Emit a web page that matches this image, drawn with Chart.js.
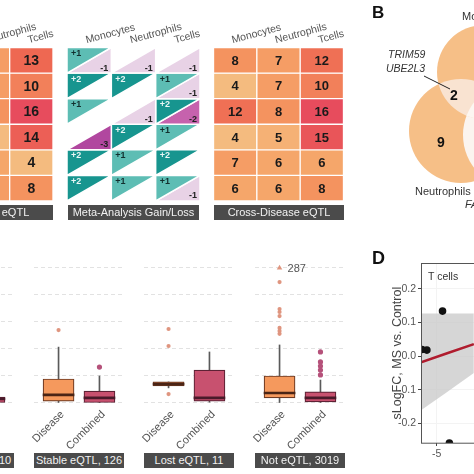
<!DOCTYPE html>
<html><head><meta charset="utf-8">
<script src="https://cdn.jsdelivr.net/npm/chart.js@4.4.1/dist/chart.umd.min.js"></script>
<style>
html,body{margin:0;padding:0;background:#fff;}
body{width:474px;height:474px;overflow:hidden;position:relative;font-family:"Liberation Sans",Arial,Helvetica,sans-serif;}
canvas{position:absolute;}
.strip{position:absolute;background:#4b4b4b;color:#f2f2f2;font-size:11px;height:15px;line-height:15px;text-align:center;white-space:nowrap;overflow:hidden;}
.lbl{position:absolute;white-space:nowrap;color:#333;}
</style></head><body>
<canvas id="hmE" width="183" height="205" style="left:-90px;top:0"></canvas>
<canvas id="meta" width="185" height="205" style="left:55px;top:0"></canvas>
<canvas id="hmC" width="184" height="205" style="left:200px;top:0"></canvas>
<canvas id="venn" width="200" height="230" style="left:360px;top:0"></canvas>
<canvas id="f0" width="150" height="213" style="left:-106px;top:240px"></canvas>
<canvas id="f1" width="150" height="213" style="left:4px;top:240px"></canvas>
<canvas id="f2" width="150" height="213" style="left:114px;top:240px"></canvas>
<canvas id="f3" width="150" height="213" style="left:225px;top:240px"></canvas>
<canvas id="pd" width="220" height="210" style="left:386px;top:255px"></canvas>
<div id="strips"></div>
<div class="lbl" style="left:372px;top:3px;font-weight:bold;font-size:17px;color:#111">B</div>
<div class="lbl" style="left:462px;top:10px;font-size:11px">Monocytes</div>
<div class="lbl" style="left:388px;top:48px;font-size:10.5px;font-style:italic">TRIM59</div>
<div class="lbl" style="left:386px;top:62px;font-size:10.5px;font-style:italic">UBE2L3</div>
<svg style="position:absolute;left:0;top:0" width="474" height="474"><line x1="424" y1="76" x2="450" y2="89" stroke="#222" stroke-width="1"/></svg>
<div class="lbl" style="left:450px;top:87px;font-weight:bold;font-size:14px;color:#111">2</div>
<div class="lbl" style="left:437px;top:134px;font-weight:bold;font-size:14px;color:#111">9</div>
<div class="lbl" style="left:415px;top:185px;font-size:11px">Neutrophils</div>
<div class="lbl" style="left:465px;top:198px;font-size:11px;font-style:italic">FAM118A</div>
<div class="lbl" style="left:372px;top:248px;font-weight:bold;font-size:18px;color:#111">D</div>
<div class="lbl" style="left:428px;top:270px;font-size:10.5px">T cells</div>
<script>
// ---------- data ----------
const cellTypes = ['Monocytes', 'Neutrophils', 'Tcells'];
// eQTL counts per row (6 rows) for each cell type
const eqtlMono = [6, 5, 9, 4, 7, 6];
const eqtlNeut = [7, 7, 8, 4, 6, 7];
const eqtlTcells = [13, 10, 16, 14, 4, 8];
// cross-disease eQTL counts
const crossMono = [8, 4, 12, 4, 7, 6];
const crossNeut = [7, 7, 8, 5, 6, 6];
const crossTcells = [12, 10, 16, 15, 6, 8];
// meta-analysis gain / loss
const gainMono = [1, 2, 1, 0, 2, 2];
const lossMono = [-1, 0, 0, -3, 0, 0];
const gainNeut = [0, 2, 0, 2, 1, 1];
const lossNeut = [-1, 0, -1, 0, 0, 0];
const gainTcells = [0, 1, 2, 1, 2, 1];
const lossTcells = [-1, -1, -2, 0, 0, -1];
// Venn (panel B)
const vennSets = ['Monocytes', 'Neutrophils', 'Tcells'];
const vennCX = [124, 101, 157];
const vennCY = [72, 131, 135];
const vennR = [47, 52, 54];
// boxplots (panel C): [low whisker, Q1, median, Q3, high whisker]
const facetNames = ['Gained eQTL, 10', 'Stable eQTL, 126', 'Lost eQTL, 11', 'Not eQTL, 3019'];
const groups = ['Disease', 'Combined'];
const diseaseStats = [[0, 0.5, 2.0, 6.0, 12.0], [0, 0.7, 3.0, 8.9, 20.7], [5.6, 6.3, 7.0, 7.8, 7.8], [0, 1.9, 3.7, 10.0, 21.5]];
const combinedStats = [[0, 0, 1.5, 2.2, 2.2], [0, 0, 1.9, 4.4, 10.0], [0.3, 0.7, 1.9, 12.2, 18.9], [0, 0.4, 1.9, 4.1, 8.5]];
const diseaseOutliers = [[], [27.0], [27.4, 21.1, 3.3], [287, 44.8, 34.8, 33.7, 32.2, 27.8, 26.7, 25.6]];
const combinedOutliers = [[], [13.3], [], [18.9, 15.2, 13.7, 12.2, 10.4]];
const boxGrid = [0, 10, 20, 30, 40, 50];
const yCap = 50;
// panel D
const dPointX = [-4.4, -6.0, -6.5, -3.7];
const dPointY = [0.134, 0.018, 0.020, -0.258];
const fitX = [-6.6, -4.0, -1.2];
const fitY = [-0.018, 0.008, 0.036];
const bandHi = [0.127, 0.127, 0.127];
const bandLo = [-0.161, -0.108, -0.050];
const dYTicks = [-0.2, -0.1, 0, 0.1, 0.2];
const dXTicks = [-5, 0, 5, 10];

// ---------- helpers ----------
const FF = "'Liberation Sans', Arial, Helvetica, sans-serif";
Chart.defaults.font.family = FF;
Chart.defaults.animation = false;
const rows = eqtlTcells.map((_, i) => i);
const heatStops = [[4, [244, 187, 127]], [6, [245, 166, 106]], [8, [244, 147, 95]], [10, [242, 128, 90]], [13, [238, 104, 82]], [16, [231, 76, 93]]];
function heatColor(v) {
  for (let i = 0; i < heatStops.length - 1; i++) {
    const [a, ca] = heatStops[i], [b, cb] = heatStops[i + 1];
    if (v <= b || i === heatStops.length - 2) {
      const t = Math.max(0, Math.min(1, (v - a) / (b - a)));
      return 'rgb(' + ca.map((c, k) => Math.round(c + (cb[k] - c) * t)).join(',') + ')';
    }
  }
}
const baseOpts = { responsive: false, animation: false, devicePixelRatio: 1, events: [],
  plugins: { legend: { display: false }, tooltip: { enabled: false } } };
const headerTicks = { autoSkip: false, minRotation: 15, maxRotation: 15, padding: 1, color: '#555', font: { size: 10.5 } };
const headerAxis = (extra) => Object.assign({
  position: 'top', grid: { display: false, drawTicks: false }, border: { display: false },
  ticks: headerTicks,
  afterFit(s) { s.height = 47.5; s.paddingLeft = 0; s.paddingRight = 0; }
}, extra);

// ---------- heatmaps ----------
function heatmap(id, cols, padL, padR, fontSize) {
  const textPlugin = { id: 'cellText', afterDatasetsDraw(chart) {
    const ctx = chart.ctx; ctx.save();
    ctx.font = 'bold ' + fontSize + 'px ' + FF; ctx.fillStyle = '#1a1a1a'; ctx.textAlign = 'center'; ctx.textBaseline = 'middle';
    chart.data.datasets.forEach((ds, r) => chart.getDatasetMeta(r).data.forEach((el, i) => {
      ctx.fillText(String(cols[i][r]), el.x, (el.y + el.base) / 2 + 1);
    }));
    ctx.restore();
  } };
  new Chart(document.getElementById(id), {
    type: 'bar',
    data: { labels: cellTypes, datasets: rows.map(r => ({
      data: cols.map(() => 1), backgroundColor: cols.map(c => heatColor(c[r])),
      borderColor: '#ffffff', borderWidth: 1, borderSkipped: false, categoryPercentage: 1, barPercentage: 1 })) },
    options: Object.assign({}, baseOpts, {
      layout: { padding: { left: padL, right: padR, top: 0, bottom: 4 } },
      scales: { x: headerAxis({ stacked: true }), y: { display: false, stacked: true, min: 0, max: rows.length, reverse: true } }
    }),
    plugins: [textPlugin]
  });
}
heatmap('hmE', [eqtlMono, eqtlNeut, eqtlTcells], 13, 40, 14);
heatmap('hmC', [crossMono, crossNeut, crossTcells], 13.5, 40.5, 13);

// ---------- meta-analysis triangles ----------
const gains = [gainMono, gainNeut, gainTcells];
const losses = [lossMono, lossNeut, lossTcells];
const gainColor = { 1: '#5dbdb4', 2: '#17958f' };
const lossColor = { '-1': '#e8d2e6', '-2': '#c662ad', '-3': '#b1479f' };
const triSets = [];
cellTypes.forEach((_, c) => rows.forEach(r => {
  const g = gains[c][r], l = losses[c][r];
  if (g > 0) triSets.push({ data: [{ x: c - 0.5, y: r - 0.5 }, { x: c + 0.5, y: r - 0.5 }, { x: c - 0.5, y: r + 0.5 }, { x: c - 0.5, y: r - 0.5 }],
    fill: 'shape', backgroundColor: gainColor[g], borderColor: '#fff', borderWidth: 1.5, pointRadius: 0, tension: 0, clip: false });
  if (l < 0) triSets.push({ data: [{ x: c + 0.5, y: r - 0.5 }, { x: c + 0.5, y: r + 0.5 }, { x: c - 0.5, y: r + 0.5 }, { x: c + 0.5, y: r - 0.5 }],
    fill: 'shape', backgroundColor: lossColor[l], borderColor: '#fff', borderWidth: 1.5, pointRadius: 0, tension: 0, clip: false });
}));
const triText = { id: 'triText', afterDatasetsDraw(chart) {
  const ctx = chart.ctx, xs = chart.scales.x, ys = chart.scales.y; ctx.save();
  ctx.font = 'bold 9px ' + FF; ctx.textBaseline = 'middle';
  cellTypes.forEach((_, c) => rows.forEach(r => {
    const L = xs.getPixelForValue(c - 0.5), R = xs.getPixelForValue(c + 0.5);
    const T = ys.getPixelForValue(r - 0.5), B = ys.getPixelForValue(r + 0.5);
    const g = gains[c][r], l = losses[c][r];
    if (g > 0) { ctx.fillStyle = g > 1 ? '#eaf6f5' : '#12302e'; ctx.textAlign = 'left'; ctx.fillText('+' + g, L + 4, T + 6); }
    if (l < 0) { ctx.fillStyle = '#222'; ctx.textAlign = 'right'; ctx.fillText(String(l), R - 3, B - 5); }
  }));
  ctx.restore();
} };
new Chart(document.getElementById('meta'), {
  type: 'line', data: { datasets: triSets },
  options: Object.assign({}, baseOpts, {
    layout: { padding: { left: 12, right: 40, top: 0, bottom: 4 } },
    scales: {
      x: headerAxis({ type: 'linear', min: -0.5, max: cellTypes.length - 0.5,
        afterBuildTicks(s) { s.ticks = cellTypes.map((_, i) => ({ value: i })); },
        ticks: Object.assign({}, headerTicks, { callback: v => cellTypes[v] }) }),
      y: { type: 'linear', display: false, min: -0.5, max: rows.length - 0.5, reverse: true }
    }
  }),
  plugins: [triText]
});

// ---------- Venn (panel B) ----------
const vennClip = { id: 'vennClip',
  beforeDatasetDraw(chart, args) {
    const ds = chart.data.datasets[args.index]; if (!ds.clipTo) return;
    const ctx = chart.ctx; ctx.save();
    ds.clipTo.forEach(j => { const el = chart.getDatasetMeta(j).data[0]; ctx.beginPath(); ctx.arc(el.x, el.y, el.options.radius, 0, Math.PI * 2); ctx.clip(); });
  },
  afterDatasetDraw(chart, args) { if (chart.data.datasets[args.index].clipTo) chart.ctx.restore(); }
};
const rpx = (c) => { const s = c.chart.scales.x; return Math.abs(s.getPixelForValue(vennR[c.dataset.setIdx]) - s.getPixelForValue(0)); };
const vennDs = (setIdx, color, order, clipTo) => ({ setIdx, clipTo, order, clip: false,
  data: [{ x: vennCX[setIdx], y: vennCY[setIdx] }], pointRadius: rpx, pointHoverRadius: rpx,
  backgroundColor: color, borderWidth: 0, pointBorderWidth: 0 });
new Chart(document.getElementById('venn'), {
  type: 'scatter',
  data: { datasets: [
    vennDs(0, '#f6bf87', 10), vennDs(1, '#f6bf87', 10), vennDs(2, '#f6bf87', 10),
    vennDs(0, '#f9e3d1', 5, [1]), vennDs(0, '#f9e5d5', 5, [2]), vennDs(1, '#fbf4ef', 5, [2]),
    vennDs(0, '#fcf6f1', 1, [1, 2])
  ] },
  options: Object.assign({}, baseOpts, {
    layout: { padding: 0 },
    scales: { x: { display: false, min: 0, max: 200 }, y: { display: false, min: 0, max: 230, reverse: true } }
  }),
  plugins: [vennClip]
});

// ---------- boxplots (panel C) ----------
const stripLefts = [-76, 34, 144, 255];
const stripBox = document.getElementById('strips');
facetNames.forEach((n, k) => {
  const d = document.createElement('div'); d.className = 'strip';
  d.style.left = stripLefts[k] + 'px'; d.style.top = '453px'; d.style.width = '90px'; d.textContent = n; stripBox.appendChild(d);
});
[['eQTL', -22, 75], ['Meta-Analysis Gain/Loss', 68, 131], ['Cross-Disease eQTL', 214, 130]].forEach(([t, l, w]) => {
  const d = document.createElement('div'); d.className = 'strip'; d.style.left = l + 'px'; d.style.top = '205px'; d.style.width = w + 'px'; d.textContent = t; stripBox.appendChild(d);
});
const boxFill = ['#f5995d', '#c8516f'], boxLine = ['#6e3a22', '#5e2235'], medCol = ['#4a2415', '#4a1a2a'], outCol = ['#df957f', '#b5517a'];
const medHalf = 0.38;
const capLabel = { id: 'capLabel', afterDatasetsDraw(chart) {
  const ctx = chart.ctx; const meta = chart.getDatasetMeta(3);
  meta.data.forEach((el, i) => { const raw = chart.data.datasets[3].data[i]; if (raw.v > yCap) {
    ctx.save(); ctx.font = '11px ' + FF; ctx.fillStyle = '#555'; ctx.textAlign = 'left'; ctx.textBaseline = 'middle';
    ctx.fillText(String(raw.v), el.x + 8, el.y + 1); ctx.restore(); } });
} };
facetNames.forEach((_, k) => {
  const stats = [diseaseStats[k], combinedStats[k]];
  const outs = [diseaseOutliers[k], combinedOutliers[k]];
  new Chart(document.getElementById('f' + k), {
    type: 'bar',
    data: { datasets: [
      { data: stats.map((s, i) => ({ x: i + 1, y: [s[0], s[4]] })), backgroundColor: '#5a5a5a', barThickness: 1, grouped: false, order: 4 },
      { data: stats.map((s, i) => ({ x: i + 1, y: [s[1], s[3]] })), backgroundColor: boxFill, borderColor: boxLine, borderWidth: 1.2, borderSkipped: false, barThickness: 31, grouped: false, order: 3 },
      { data: stats.map((s, i) => ({ x: i + 1, y: [s[2] - medHalf, s[2] + medHalf] })), backgroundColor: medCol, barThickness: 31, grouped: false, order: 2 },
      { type: 'scatter', order: 1, data: outs.flatMap((arr, i) => arr.map(v => ({ x: i + 1, y: Math.min(v, yCap), v }))),
        pointStyle: c => (c.raw && c.raw.v > yCap) ? 'triangle' : 'circle',
        pointRadius: c => (c.raw && c.raw.v > yCap) ? 3.2 : (c.raw && c.raw.x === 2 ? 2.6 : 2.1),
        backgroundColor: c => c.raw ? outCol[c.raw.x - 1] : outCol[0], borderWidth: 0, pointBorderWidth: 0 }
    ] },
    options: Object.assign({}, baseOpts, {
      layout: { padding: { left: 30, right: 30, top: 15, bottom: 0 } },
      scales: {
        x: { type: 'linear', offset: false, min: 0.4, max: 2.6,
          afterBuildTicks(s) { s.ticks = groups.map((_, i) => ({ value: i + 1 })); },
          grid: { display: false, drawTicks: false, offset: false }, border: { display: false },
          ticks: { autoSkip: false, minRotation: 45, maxRotation: 45, padding: 3, labelOffset: 4, color: '#555', font: { size: 11 }, callback: v => groups[v - 1] },
          afterFit(s) { s.height = 48; s.paddingLeft = 0; s.paddingRight = 0; } },
        y: { min: -0.741, max: 54.81, afterBuildTicks(s) { s.ticks = boxGrid.map(v => ({ value: v })); },
          ticks: { display: false }, grid: { color: '#e2e2e2', drawTicks: false }, border: { display: false, dash: [4, 3] },
          afterFit(s) { s.width = 0; } }
      }
    }),
    plugins: [capLabel]
  });
});

// ---------- panel D ----------
const frame = { id: 'frame', afterDatasetsDraw(chart) {
  const a = chart.chartArea, ctx = chart.ctx; ctx.save(); ctx.strokeStyle = '#555'; ctx.lineWidth = 1;
  ctx.strokeRect(Math.round(a.left) + 0.5, Math.round(a.top) + 0.5, a.right - a.left, a.bottom - a.top); ctx.restore();
} };
new Chart(document.getElementById('pd'), {
  type: 'scatter',
  data: { datasets: [
    { type: 'line', data: fitX.map((x, i) => ({ x, y: bandHi[i] })), borderWidth: 0, pointRadius: 0, fill: false, clip: 0, order: 5 },
    { type: 'line', data: fitX.map((x, i) => ({ x, y: bandLo[i] })), borderWidth: 0, pointRadius: 0, fill: 0, backgroundColor: 'rgba(196,196,196,0.7)', clip: 0, order: 4 },
    { type: 'line', data: fitX.map((x, i) => ({ x, y: fitY[i] })), borderColor: '#b01c2e', borderWidth: 2.5, pointRadius: 0, fill: false, clip: 0, order: 2 },
    { data: dPointX.map((x, i) => ({ x, y: dPointY[i] })), backgroundColor: '#111', pointRadius: 3.8, borderWidth: 0, clip: 0, order: 1 }
  ] },
  options: Object.assign({}, baseOpts, {
    layout: { padding: { left: 0, right: 0, top: 8, bottom: 0 } },
    scales: {
      x: { type: 'linear', min: -6.6, max: 11.9, afterBuildTicks(s) { s.ticks = dXTicks.map(v => ({ value: v })); },
        grid: { color: '#f3f3f3', tickColor: '#444', tickLength: 3 }, border: { display: false },
        ticks: { color: '#555', font: { size: 10.5 }, padding: 2 }, afterFit(s) { s.height = 22; } },
      y: { type: 'linear', min: -0.258, max: 0.276, afterBuildTicks(s) { s.ticks = dYTicks.map(v => ({ value: v })); },
        grid: { color: '#f3f3f3', tickColor: '#444', tickLength: 3 }, border: { display: false },
        ticks: { color: '#555', font: { size: 10.5 }, padding: 2, callback: v => v.toFixed(1) },
        title: { display: true, text: 'sLogFC, MS vs. Control', color: '#444', font: { size: 12.5 }, padding: { top: 4, bottom: 0 } },
        afterFit(s) { s.width = 35; } }
    }
  }),
  plugins: [frame]
});
</script>
</body></html>
